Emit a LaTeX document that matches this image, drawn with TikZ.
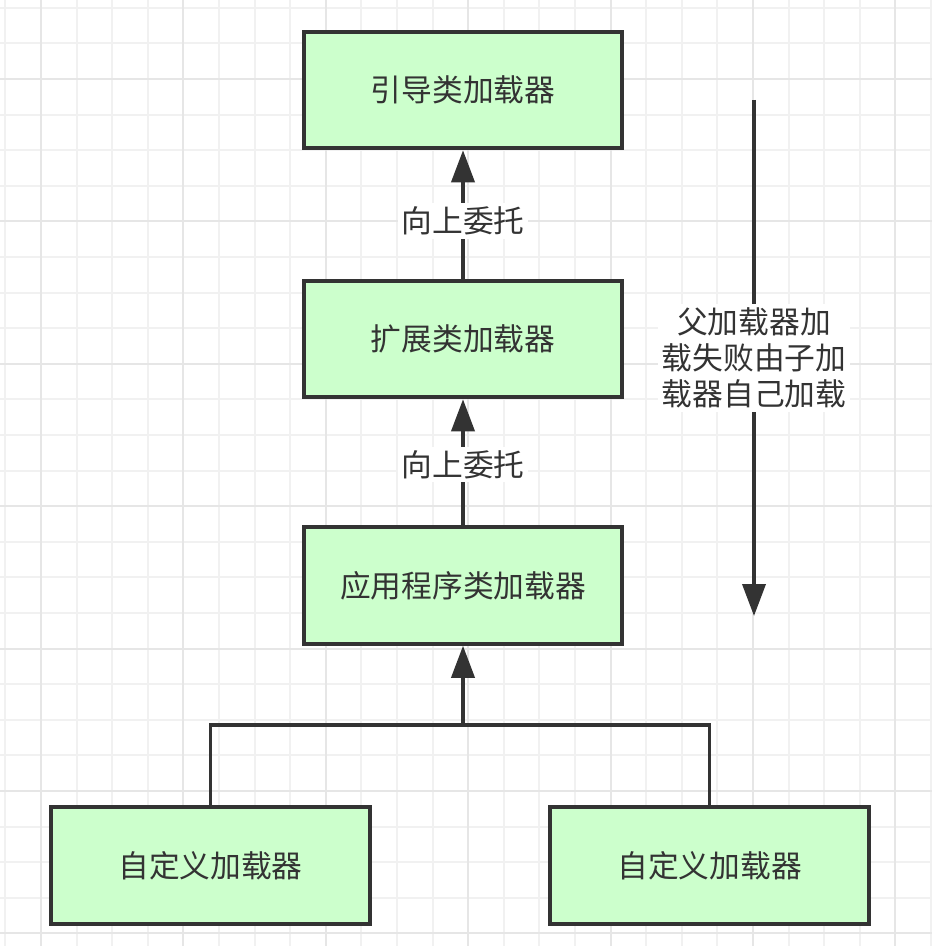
\documentclass[tikz,border=0pt]{standalone}
\usepackage{fontspec}
\setmainfont{Noto Sans CJK SC}
\usetikzlibrary{arrows.meta}

\definecolor{boxfill}{HTML}{CCFFCC}
\definecolor{ink}{HTML}{333333}
\definecolor{gridminor}{HTML}{F1F1F1}
\definecolor{gridmajor}{HTML}{E6E6E6}

\begin{document}
\begin{tikzpicture}[x=0.02cm,y=-0.02cm,
loader/.style={
	% The shape:
	rectangle,
	% The size:
	minimum width=6.38cm,minimum height=2.33cm,
	% The border:
	line width=2.3pt,draw=ink,
	% The filling:
	fill=boxfill,
	% Font
	text=ink,font=\fontsize{17.5}{20.5}\selectfont},
link/.style={line width=2.1pt,draw=ink},
arrow/.style={link,-{Triangle[length=0.64cm,width=0.46cm]}},
tag/.style={fill=white,text=ink,inner sep=2pt,align=center,
	font=\fontsize{17.5}{20.5}\selectfont}]

\useasboundingbox (0,0) rectangle (932,946);
\fill[white] (0,0) rectangle (932,946);

% grid paper
\foreach \i in {0,...,26}
	\draw[gridminor,line width=1.2pt] (5.4+\i*35.6,0) -- (5.4+\i*35.6,946);
\foreach \i in {0,...,26}
	\draw[gridminor,line width=1.2pt] (0,7.8+\i*35.6) -- (932,7.8+\i*35.6);
\foreach \i in {0,...,6}
	\draw[gridmajor,line width=1.2pt] (41+\i*142.4,0) -- (41+\i*142.4,946);
\foreach \i in {0,...,6}
	\draw[gridmajor,line width=1.2pt] (0,79+\i*142.4) -- (932,79+\i*142.4);

% the loaders
\node (boot) [loader] at (463,90) {引导类加载器};
\node (ext) [loader] at (463,339) {扩展类加载器};
\node (app) [loader] at (463,585.5) {应用程序类加载器};
\node (cl) [loader] at (210.5,865.5) {自定义加载器};
\node (cr) [loader] at (709.5,865.5) {自定义加载器};

% delegation upwards
\draw[arrow] (ext.north) -- node[tag,pos=0.45] {向上委托} (boot.south);
\draw[arrow] (app.north) -- node[tag,pos=0.48] {向上委托} (ext.south);

\coordinate (joint) at (463,725);
\draw[link] (cl.north) |- (joint);
\draw[link] (cr.north) |- (joint);
\draw[arrow] (joint) -- (app.south);

% loading falls back downwards
\coordinate (fromtop) at (754,100);
\coordinate (tobottom) at (754,616);
\draw[arrow] (fromtop) -- node[tag] {父加载器加\\载失败由子加\\载器自己加载} (tobottom);

\end{tikzpicture}
\end{document}
